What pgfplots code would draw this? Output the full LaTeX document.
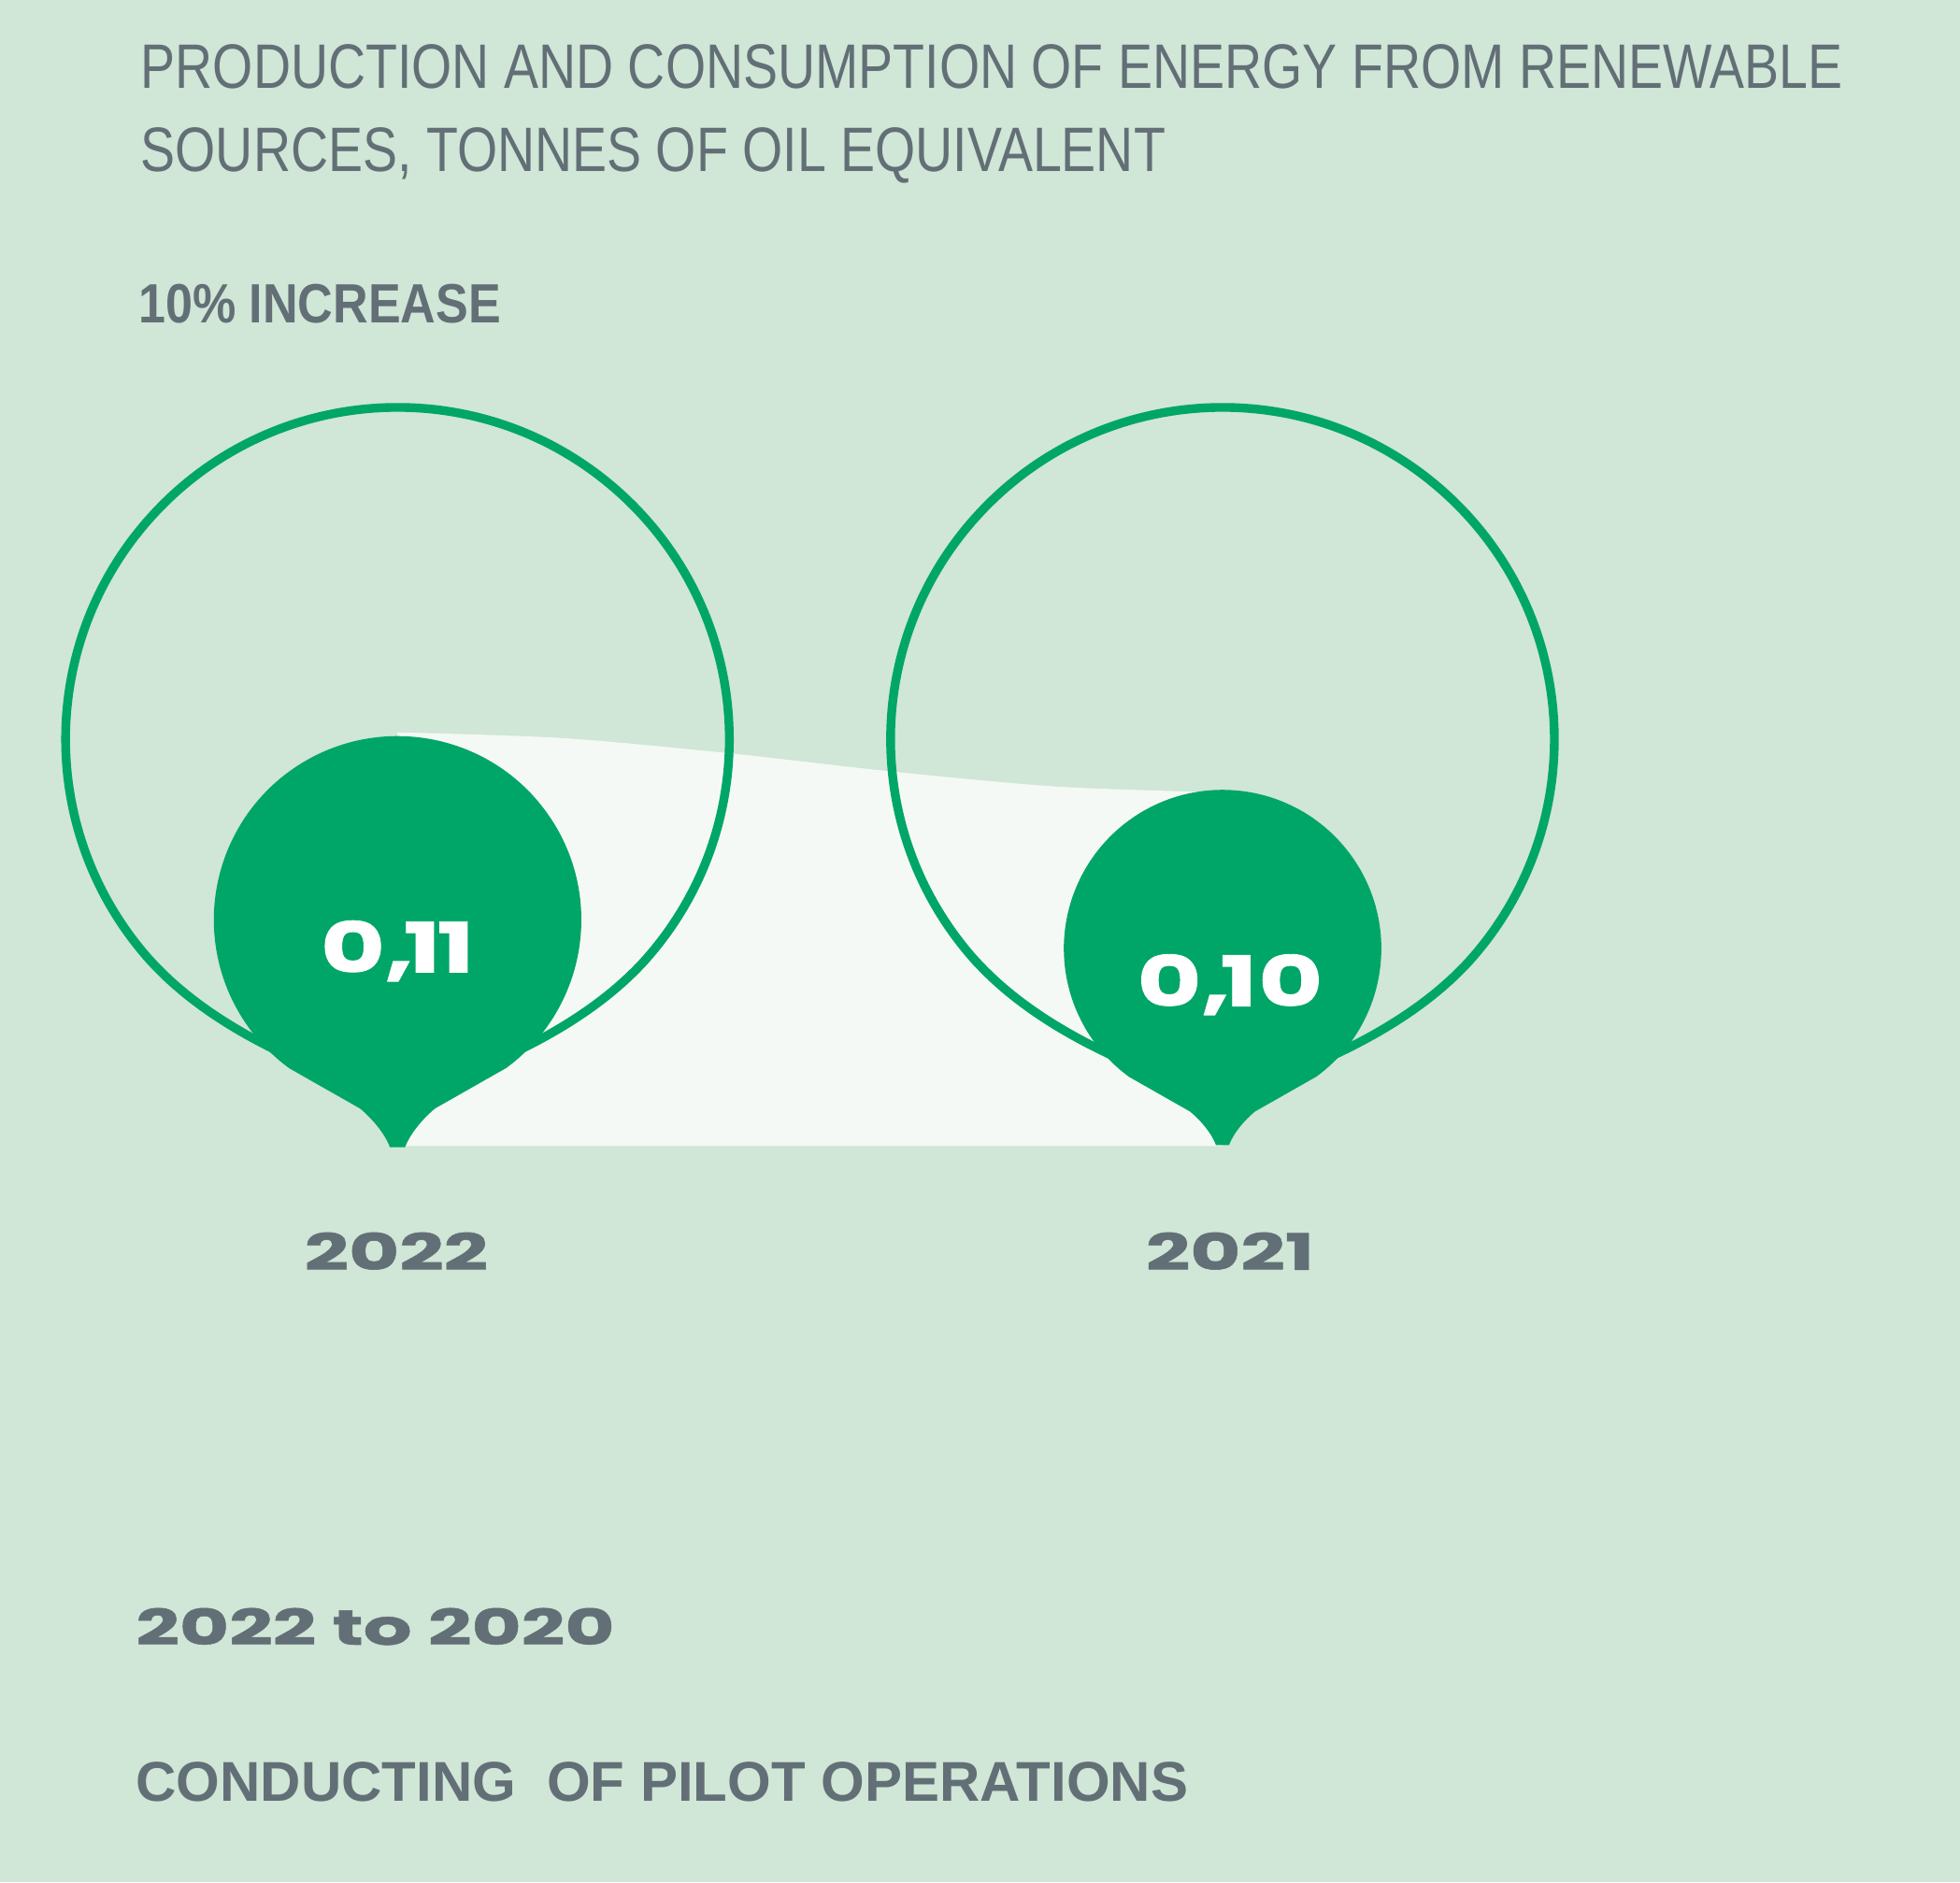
\documentclass[border=0pt]{standalone}
\usepackage{pgfplots}
\pgfplotsset{compat=1.18}
\usepackage{fontspec}
\setmainfont{Liberation Sans}
\newfontfamily\condfont[FakeStretch=0.826]{Liberation Sans}
\newfontfamily\condbold[FakeStretch=0.88]{Liberation Sans Bold}
\newfontfamily\plainbold{Liberation Sans Bold}
\newfontfamily\widefont[FakeStretch=1.55,FakeBold=1.0]{Poppins Bold}
\newfontfamily\valfont[FakeStretch=1.42,FakeBold=1.2]{Poppins Bold}
\definecolor{bg}{HTML}{D0E6D6}
\definecolor{pgreen}{HTML}{00A667}
\definecolor{bandc}{HTML}{F4F9F5}
\definecolor{txtgray}{HTML}{636F76}

% filled pin, origin at the top of the pin, radius = mark size
\pgfdeclareplotmark{pin}{%
  \pgfpathmoveto{\pgfqpoint{-0.591\pgfplotmarksize}{-1.807\pgfplotmarksize}}%
  \pgfpathlineto{\pgfqpoint{-0.204\pgfplotmarksize}{-2.027\pgfplotmarksize}}%
  \pgfpathcurveto{\pgfqpoint{-0.144\pgfplotmarksize}{-2.077\pgfplotmarksize}}{\pgfqpoint{-0.071\pgfplotmarksize}{-2.158\pgfplotmarksize}}{\pgfqpoint{-0.041\pgfplotmarksize}{-2.238\pgfplotmarksize}}%
  \pgfpathlineto{\pgfqpoint{0.041\pgfplotmarksize}{-2.238\pgfplotmarksize}}%
  \pgfpathcurveto{\pgfqpoint{0.071\pgfplotmarksize}{-2.158\pgfplotmarksize}}{\pgfqpoint{0.144\pgfplotmarksize}{-2.077\pgfplotmarksize}}{\pgfqpoint{0.204\pgfplotmarksize}{-2.027\pgfplotmarksize}}%
  \pgfpathlineto{\pgfqpoint{0.591\pgfplotmarksize}{-1.807\pgfplotmarksize}}%
  \pgfpatharc{-53.8}{233.8}{\pgfplotmarksize}%
  \pgfpathclose
  \pgfusepathqfill
}
% outline ring, origin at the top of the ring
\pgfdeclareplotmark{pinring}{%
  \pgfpathmoveto{\pgfqpoint{-0.743\pgfplotmarksize}{-1.669\pgfplotmarksize}}%
  \pgfpathcurveto{\pgfqpoint{-0.55\pgfplotmarksize}{-1.88\pgfplotmarksize}}{\pgfqpoint{-0.25\pgfplotmarksize}{-2.0\pgfplotmarksize}}{\pgfqpoint{0pt}{-2.08\pgfplotmarksize}}%
  \pgfpathcurveto{\pgfqpoint{0.25\pgfplotmarksize}{-2.0\pgfplotmarksize}}{\pgfqpoint{0.55\pgfplotmarksize}{-1.88\pgfplotmarksize}}{\pgfqpoint{0.743\pgfplotmarksize}{-1.669\pgfplotmarksize}}%
  \pgfpatharc{-42}{222}{\pgfplotmarksize}%
  \pgfpathclose
  \pgfusepathqstroke
}

\begin{document}
\begin{tikzpicture}
\fill[bg] (0,0) rectangle (15.68,15.06);
\begin{axis}[at={(0,0)}, anchor=south west, scale only axis,
  width=15.68cm, height=15.06cm,
  xmin=-0.481818, xmax=1.893939, ymin=-0.103256, ymax=0.246977,
  hide axis, clip=false]
% band linking the two values
\addplot[draw=none, fill=bandc, smooth] coordinates {
  (0,0.1107) (0.2,0.10963) (0.4,0.10684) (0.6,0.10340) (0.8,0.10060) (1,0.09953)}
  -- (axis cs:1,0.03372) -- (axis cs:0,0.03372) -- cycle;
% outer rings
\addplot[only marks, mark=pinring, mark size=2.655cm,
  mark options={draw=pgreen, line width=2pt}] coordinates {(0,0.17116) (1,0.17116)};
% filled pins (top of pin at the value)
\addplot[only marks, mark=pin, mark size=1.47cm,
  mark options={fill=pgreen, draw=pgreen}] coordinates {(0,0.11)};
\addplot[only marks, mark=pin, mark size=1.27cm,
  mark options={fill=pgreen, draw=pgreen}] coordinates {(1,0.10)};
\coordinate (v1) at (axis cs:0,0.11);
\coordinate (v2) at (axis cs:1,0.10);
\end{axis}
% value labels
\node[anchor=base, text=white, inner sep=0pt, font=\valfont\fontsize{15.8}{18}\selectfont, yshift=-1.89cm] at (v1) {0,\kern-2.2pt1\kern-0.8pt1};
\node[anchor=base, text=white, inner sep=0pt, font=\valfont\fontsize{15.8}{18}\selectfont, yshift=-1.73cm, xshift=0.06cm] at (v2) {0,\kern-2.2pt1\kern0.3pt0};
% texts
\node[anchor=base west, text=txtgray, font=\condfont\fontsize{14.3}{16}\selectfont, inner sep=0pt] at (1.12,14.35) {PRODUCTION AND CONSUMPTION OF ENERGY FROM RENEWABLE};
\node[anchor=base west, text=txtgray, font=\condfont\fontsize{14.3}{16}\selectfont, inner sep=0pt] at (1.12,13.69) {SOURCES, TONNES OF OIL EQUIVALENT};
\node[anchor=base west, text=txtgray, font=\condbold\fontsize{12.6}{14}\selectfont, inner sep=0pt] at (1.10,12.48) {10\% INCREASE};
\node[anchor=base, text=txtgray, font=\widefont\fontsize{11.4}{13}\selectfont, inner sep=0pt] at (3.17,4.90) {2022};
\node[anchor=base, text=txtgray, font=\widefont\fontsize{11.4}{13}\selectfont, inner sep=0pt] at (9.84,4.90) {2021};
\node[anchor=base west, text=txtgray, font=\widefont\fontsize{11.2}{13}\selectfont, inner sep=0pt] at (1.08,1.90) {2022 to 2020};
\node[anchor=base west, text=txtgray, font=\plainbold\fontsize{12.77}{14}\selectfont, inner sep=0pt] at (1.08,0.65) {CONDUCTING\hspace{0.55em}OF PILOT OPERATIONS};
\pgfresetboundingbox
\path[use as bounding box] (0,0) rectangle (15.68,15.06);
\end{tikzpicture}
\end{document}
